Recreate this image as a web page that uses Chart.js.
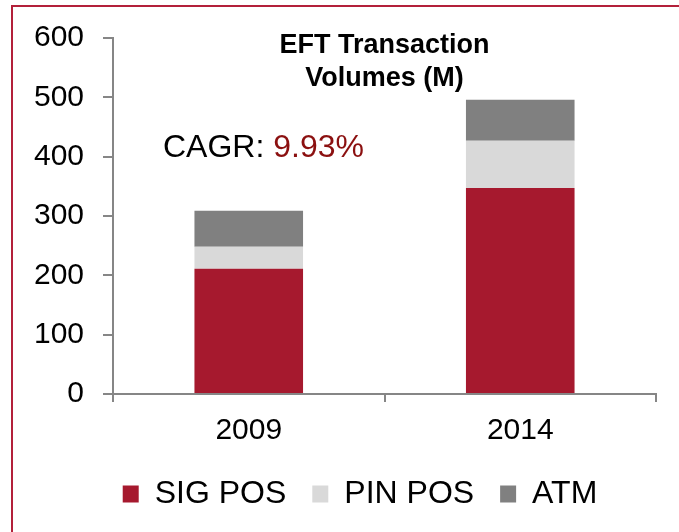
<!DOCTYPE html>
<html>
<head>
<meta charset="utf-8">
<script src="https://cdn.jsdelivr.net/npm/chart.js@4/dist/chart.umd.min.js"></script>
<style>
  html, body { margin: 0; padding: 0; background: #ffffff; }
  #wrap { position: relative; width: 679px; height: 532px; }
  #frame { position: absolute; left: 11px; top: 5px; right: 0; bottom: 0;
           border-top: 2px solid #B3203A; border-left: 2px solid #B3203A; pointer-events: none; }
  canvas { position: absolute; left: 0; top: 0; }
</style>
</head>
<body>
<div id="wrap">
  <canvas id="c" width="679" height="532"></canvas>
  <div id="frame"></div>
</div>
<script>
const categories = ['2009', '2014'];
const sigPos = [211, 347];
const pinPos = [37, 80];
const atm = [61, 69];
const yTickValues = [0, 100, 200, 300, 400, 500, 600];
const titleLines = ['EFT Transaction', 'Volumes (M)'];
const cagrLabel = 'CAGR: ';
const cagrValue = '9.93%';

const FONT = "'Liberation Sans', Arial, Helvetica, sans-serif";

const overlay = {
  id: 'overlay',
  afterLayout(chart) {
    const lg = chart.legend;
    if (lg) {
      const shift = 32;
      lg.left += shift;
      lg.right += shift;
    }
  },
  afterDraw(chart) {
    const ctx = chart.ctx;
    const area = chart.chartArea;
    ctx.save();
    ctx.fillStyle = '#000000';
    ctx.textAlign = 'center';
    ctx.textBaseline = 'middle';
    ctx.font = 'bold 27px ' + FONT;
    const cx = (area.left + area.right) / 2;
    ctx.fillText(titleLines[0], cx, 46);
    ctx.fillText(titleLines[1], cx, 79);
    ctx.font = '32px ' + FONT;
    ctx.textAlign = 'left';
    ctx.fillText(cagrLabel, 163, 148);
    const w = ctx.measureText(cagrLabel).width;
    ctx.fillStyle = '#8B1010';
    ctx.fillText(cagrValue, 163 + w, 148);
    ctx.restore();
  }
};

new Chart(document.getElementById('c'), {
  type: 'bar',
  data: {
    labels: categories,
    datasets: [
      { label: 'SIG POS', data: sigPos, backgroundColor: '#A6192E' },
      { label: 'PIN POS', data: pinPos, backgroundColor: '#D9D9D9' },
      { label: 'ATM', data: atm, backgroundColor: '#808080' }
    ]
  },
  options: {
    responsive: false,
    animation: false,
    layout: { padding: { left: 0, right: 23, top: 38, bottom: 12 } },
    datasets: { bar: { categoryPercentage: 0.4, barPercentage: 1.0 } },
    plugins: {
      legend: {
        position: 'bottom',
        labels: {
          color: '#000000',
          font: { family: FONT, size: 32 },
          boxWidth: 16,
          boxHeight: 17,
          padding: 26
        }
      },
      tooltip: { enabled: false },
      title: { display: false }
    },
    scales: {
      x: {
        stacked: true,
        grid: { display: true, drawOnChartArea: false, drawTicks: true, tickLength: 8, color: '#868686', lineWidth: 2, offset: true },
        border: { display: true, color: '#868686', width: 2 },
        ticks: { color: '#000000', font: { family: FONT, size: 30 }, padding: 11 },
        afterFit(scale) { scale.height = 58; }
      },
      y: {
        stacked: true,
        min: 0,
        max: 600,
        afterBuildTicks(scale) { scale.ticks = yTickValues.map(v => ({ value: v })); },
        grid: { display: true, drawOnChartArea: false, drawTicks: true, tickLength: 10, color: '#868686', lineWidth: 2 },
        border: { display: true, color: '#868686', width: 2 },
        ticks: { color: '#000000', font: { family: FONT, size: 30 }, padding: 19 },
        afterFit(scale) { scale.width = 113; }
      }
    }
  },
  plugins: [overlay]
});
</script>
</body>
</html>
